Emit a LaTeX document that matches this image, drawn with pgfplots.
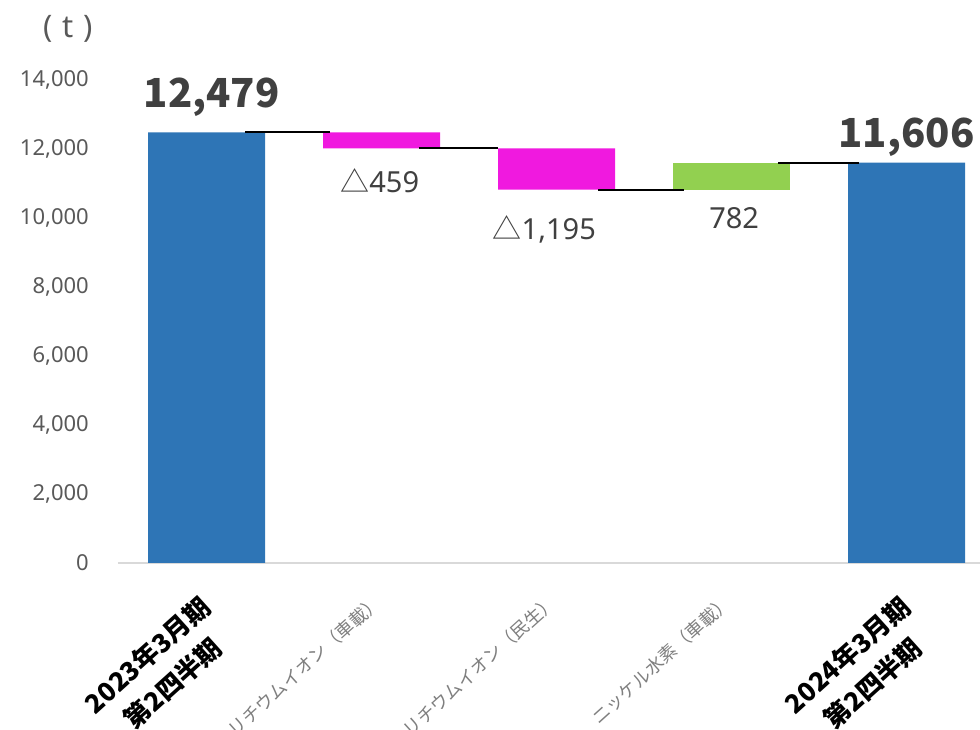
\documentclass[border=0pt]{standalone}
\usepackage{pgfplots}
\pgfplotsset{compat=1.18}
\usepackage{fontspec}
\setmainfont{Noto Sans}
\newfontfamily\cjk{Noto Sans CJK JP}
\definecolor{barblue}{HTML}{2E75B6}
\definecolor{barmag}{HTML}{F019DF}
\definecolor{bargreen}{HTML}{92D050}
\definecolor{ticktxt}{HTML}{595959}
\definecolor{lbltxt}{HTML}{404040}
\definecolor{cattxt}{HTML}{7F7F7F}
\definecolor{axline}{HTML}{D9D9D9}
\newcommand\midlbl[1]{\mdseries\fontsize{18}{21}\selectfont\color{cattxt}#1}
\begin{document}
\begin{tikzpicture}
\useasboundingbox (-118pt,-167pt) rectangle (862pt,563pt);
\pgfplotsset{common/.style={
  scale only axis, width=862pt, height=483pt,
  xmin=-0.506, xmax=4.42, ymin=0, ymax=14000,
  enlargelimits=false,
  at={(0pt,0pt)}, anchor=south west, clip=false}}
\begin{axis}[common,
  ybar stacked, bar width=117pt,
  axis x line*=bottom, axis y line*=left,
  y axis line style={draw=none},
  x axis line style={draw=axline, line width=1.5pt},
  major tick length=0pt,
  scaled y ticks=false,
  ytick={0,2000,...,14000},
  xtick={0,1,2,3,4},
  xticklabels={
    {2023年3月期\\[7pt]第2四半期},
    {\midlbl{リチウムイオン（車載）}},
    {\midlbl{リチウムイオン（民生）}},
    {\midlbl{ニッケル水素（車載）}},
    {2024年3月期\\[7pt]第2四半期}},
  /pgf/number format/assume math mode=true,
  /pgf/number format/1000 sep={,},
  yticklabel style={font=\fontsize{22}{26}\selectfont, color=ticktxt, anchor=east, inner sep=0pt, xshift=-29pt},
  xticklabel style={xshift=-9pt, yshift=-30pt, font=\cjk\bfseries\fontsize{26}{31}\selectfont, color=black, rotate=42, anchor=north east, inner sep=0pt, align=center},
]
\addplot[draw=none, fill=none] coordinates {(0,0) (1,12020) (2,10825) (3,10825) (4,0)};
\addplot[draw=none, fill=barblue] coordinates {(0,12479) (1,0) (2,0) (3,0) (4,11606)};
\addplot[draw=none, fill=barmag] coordinates {(0,0) (1,459) (2,1195) (3,0) (4,0)};
\addplot[draw=none, fill=bargreen] coordinates {(0,0) (1,0) (2,0) (3,782) (4,0)};
\node[font=\cjk\bfseries\fontsize{40}{48}\selectfont, color=lbltxt, anchor=base] at (axis cs:0.03,13190) {12,479};
\node[font=\cjk\bfseries\fontsize{40}{48}\selectfont, color=lbltxt, anchor=base] at (axis cs:4.0,12030) {11,606};
\node[font=\fontsize{29}{34}\selectfont, color=lbltxt, anchor=base] at (axis cs:0.99,10725) {{\cjk △}459};
\node[font=\fontsize{29}{34}\selectfont, color=lbltxt, anchor=base] at (axis cs:1.93,9391) {{\cjk △}1,195};
\node[font=\fontsize{29}{34}\selectfont, color=lbltxt, anchor=base] at (axis cs:3.015,9710) {782};
\end{axis}
\begin{axis}[common, hide axis]
\addplot[black, line width=2pt, no marks] coordinates {(0.22,12479) (0.706,12479)};
\addplot[black, line width=2pt, no marks] coordinates {(1.214,12020) (1.666,12020)};
\addplot[black, line width=2pt, no marks] coordinates {(2.237,10825) (2.729,10825)};
\addplot[black, line width=2pt, no marks] coordinates {(3.266,11607) (3.729,11607)};
\end{axis}
\node[font=\fontsize{31}{36}\selectfont, color=ticktxt] at (-50pt,534pt) {(\hspace{10pt}t\hspace{10pt})};
\end{tikzpicture}
\end{document}
